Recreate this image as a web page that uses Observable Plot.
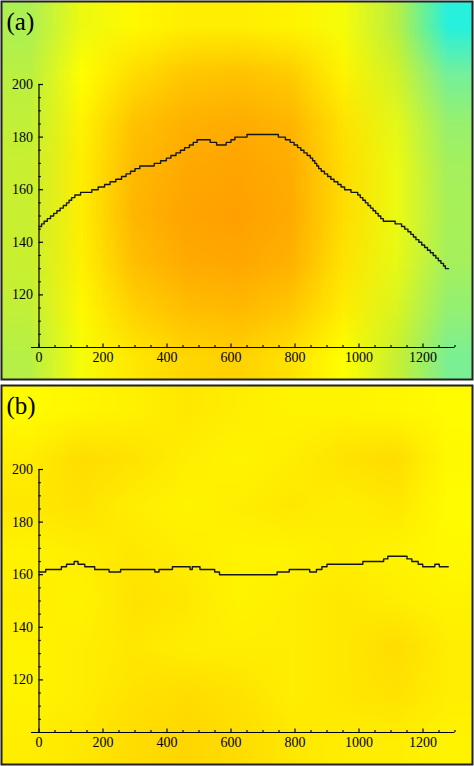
<!DOCTYPE html>
<html><head><meta charset="utf-8">
<script src="https://cdn.jsdelivr.net/npm/d3@7"></script>
<script src="https://cdn.jsdelivr.net/npm/@observablehq/plot@0.6"></script>
<style>body{margin:0;background:#fff} svg{display:block}</style>
</head><body><div id="chart"></div>
<script>
// ---- data ----
const xMajor = [0, 200, 400, 600, 800, 1000, 1200];
const xMinor = [50,100,150,250,300,350,450,500,550,650,700,750,850,900,950,1050,1100,1150,1250,1300];
const yMajor = [120, 140, 160, 180, 200];
const yMinor = [105,110,115,125,130,135,145,150,155,165,170,175,185,190,195];

const lineA_x = [0,8,16,26,36,46,56,66,76,86,94,102,112,130,165,185,205,222,240,258,272,286,300,315,360,380,398,412,428,442,455,470,482,494,535,555,585,600,612,650,748,770,785,797,808,818,828,838,848,855,862,868,874,882,892,902,912,922,934,944,955,975,996,1004,1012,1020,1028,1036,1044,1052,1060,1068,1076,1113,1133,1143,1153,1162,1170,1178,1187,1196,1205,1214,1223,1232,1240,1248,1256,1264,1270,1280];
const lineA_y = [146,147,148,149,150,151,152,153,154,155,156,157,158,159,160,161,162,163,164,165,166,167,168,169,170,171,172,173,174,175,176,177,178,179,178,177,178,179,180,181,180,179,178,177,176,175,174,173,172,171,170,169,168,167,166,165,164,163,162,161,160,159,158,157,156,155,154,153,152,151,150,149,148,147,146,145,144,143,142,141,140,139,138,137,136,135,134,133,132,131,130,130];

const lineB_x = [0,21,70,86,110,122,143,174,219,255,362,375,417,472,479,503,549,564,744,782,846,867,884,900,1012,1077,1090,1150,1165,1185,1199,1237,1251,1279];
const lineB_y = [161,162,163,164,165,164,163,162,161,162,161,162,163,162,163,162,161,160,161,162,161,162,163,164,165,166,167,166,165,164,163,164,163,163];

// background intensity grids (9 columns x 8 rows, top row first)
const fieldA = [
  0.42,0.58,0.64,0.68,0.68,0.66,0.60,0.46,0.06,
  0.46,0.62,0.74,0.82,0.84,0.80,0.66,0.52,0.26,
  0.48,0.66,0.84,0.92,0.94,0.90,0.72,0.56,0.36,
  0.50,0.68,0.88,0.96,0.98,0.94,0.74,0.58,0.40,
  0.50,0.68,0.90,0.98,1.00,0.95,0.74,0.58,0.41,
  0.50,0.67,0.86,0.95,0.97,0.92,0.72,0.57,0.40,
  0.48,0.64,0.78,0.86,0.88,0.82,0.68,0.54,0.35,
  0.45,0.60,0.70,0.76,0.78,0.72,0.62,0.50,0.28
];
const fieldB = [
  0.63,0.65,0.67,0.70,0.68,0.66,0.66,0.65,0.63,
  0.68,0.74,0.72,0.68,0.66,0.68,0.72,0.74,0.64,
  0.70,0.72,0.68,0.66,0.68,0.70,0.68,0.70,0.63,
  0.66,0.68,0.70,0.68,0.66,0.66,0.68,0.66,0.64,
  0.68,0.66,0.72,0.70,0.66,0.68,0.70,0.68,0.66,
  0.66,0.68,0.70,0.68,0.68,0.68,0.70,0.74,0.68,
  0.66,0.68,0.72,0.74,0.72,0.68,0.70,0.72,0.68,
  0.68,0.70,0.74,0.76,0.74,0.70,0.68,0.68,0.66
];
const colorStops = [0, 0.25, 0.5, 0.62, 0.8, 1];
const colorRange = ["#10f0f0", "#70f0a0", "#c8f030", "#ffff00", "#ffcc00", "#ffa000"];

// ---- drawing ----
const FONT = "Liberation Serif, Times New Roman, serif";
function panel({label, lineX, lineY, field, top, bottom, yTop, yBottom}) {
  const W = 474, H = 383, mL = 1, mR = 2;
  const xRange = [38.5, 454.5];
  const kx = (xRange[1] - xRange[0]) / 1300;
  const ky = (yBottom - yTop) / 100;
  const px2x = p => (p - xRange[0]) / kx;
  const py2y = p => 200 - (p - yTop) / ky;
  const pts = lineX.map((x, i) => ({x, y: lineY[i]}));
  const ax = {stroke: "#000", strokeWidth: 1.2};
  return Plot.plot({
    width: W, height: H,
    marginLeft: mL, marginRight: mR, marginTop: top, marginBottom: bottom,
    x: {domain: [0, 1300], range: xRange, axis: null},
    y: {domain: [100, 200], range: [yBottom, yTop], axis: null},
    color: {type: "linear", domain: colorStops, range: colorRange},
    style: {background: "transparent", overflow: "visible"},
    marks: [
      Plot.raster(field, {width: 9, height: 8, fill: Plot.identity,
        x1: px2x(mL), x2: px2x(W - mR), y1: py2y(top), y2: py2y(H - bottom)}),
      Plot.frame({stroke: "#222", strokeWidth: 2}),
      Plot.ruleX([0], {y1: 100, y2: 200, ...ax}),
      Plot.ruleY([100], {x1: px2x(31) , x2: 1300, ...ax}),
      Plot.ruleY(yMajor, {x1: 0, x2: 4.5 / kx, ...ax}),
      Plot.ruleY(yMinor, {x1: 0, x2: 2.3 / kx, ...ax}),
      Plot.ruleX(xMajor, {y1: 100, y2: 100 + 3.5 / ky, ...ax}),
      Plot.ruleX(xMinor, {y1: 100, y2: 100 + 2 / ky, ...ax}),
      Plot.text(yMajor, {x: 0, y: d => d, text: d => String(d), dx: -6, textAnchor: "end",
        fontSize: 14, fontFamily: FONT, fill: "#000"}),
      Plot.text(xMajor, {x: d => d, y: 100, text: d => String(d), dy: 10,
        fontSize: 14, fontFamily: FONT, fill: "#000"}),
      Plot.line(pts, {x: "x", y: "y", curve: "step-after", stroke: "#161616", strokeWidth: 1.4}),
      Plot.text([label], {frameAnchor: "top-left", text: d => d, dx: 5, dy: 11, textAnchor: "start",
        lineAnchor: "top", fontSize: 25, fontFamily: FONT, fill: "#000"})
    ]
  });
}

const root = document.getElementById("chart");
root.append(panel({label: "(a)", lineX: lineA_x, lineY: lineA_y, field: fieldA,
  top: 1, bottom: 4, yTop: 84, yBottom: 347}));
root.append(panel({label: "(b)", lineX: lineB_x, lineY: lineB_y, field: fieldB,
  top: 2, bottom: 2, yTop: 86, yBottom: 349}));
</script></body></html>
